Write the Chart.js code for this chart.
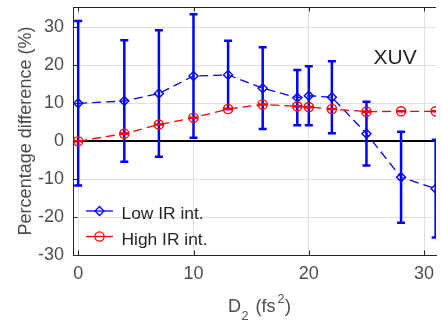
<!DOCTYPE html>
<html>
<head>
<meta charset="utf-8">
<script src="https://cdn.jsdelivr.net/npm/chart.js@4.4.1/dist/chart.umd.min.js"></script>
<style>
  html, body { margin: 0; padding: 0; background: #fff; }
  canvas { display: block; }
</style>
</head>
<body>
<canvas id="grafico" width="442" height="323"></canvas>
<script>
// D2 (fs^2)
const dispersion = [0, 4, 7, 10, 13, 16, 19, 20, 22, 25, 28, 31];
// baja intensidad IR
const lowIR    = [10.0, 10.6, 12.6, 17.2, 17.5, 14.0, 11.5, 12.0, 11.6, 2.0, -9.5, -12.5];
const lowIRErr = [21.7, 16.0, 16.7, 16.3,  9.0, 10.8,  7.3,  7.8,  9.5, 8.4, 12.0, 12.9];
// alta intensidad IR
const highIR    = [0.0, 2.0, 4.4, 6.2, 8.5, 9.7, 9.2, 9.0, 8.5, 7.8, 7.9, 7.9];
const highIRErr = [0.15, 0.15, 0.15, 0.15, 0.15, 0.15, 0.15, 0.15, 0.15, 0.15, 0.15, 0.15];

const xTicks = [0, 10, 20, 30];
const yTicks = [-30, -20, -10, 0, 10, 20, 30];

const FUENTE = '"Liberation Sans", Arial, Helvetica, sans-serif';
const GRIS = '#4d4d4d';
const EJE = '#262626';

// barras de error, se dibujan antes de cada serie
const barrasError = {
    id: 'barrasError',
    beforeDatasetDraw(chart, args) {
        const ds = chart.data.datasets[args.index];
        if (!ds.errores) return;
        const { ctx, chartArea, scales: { x, y } } = chart;
        ctx.save();
        ctx.beginPath();
        ctx.rect(chartArea.left, chartArea.top, chartArea.width, chartArea.height);
        ctx.clip();
        ctx.strokeStyle = ds.borderColor;
        ctx.lineWidth = ds.anchoError;
        ctx.setLineDash([]);
        ds.data.forEach((p, i) => {
            const px = x.getPixelForValue(p.x);
            const arriba = y.getPixelForValue(p.y + ds.errores[i]);
            const abajo = y.getPixelForValue(p.y - ds.errores[i]);
            ctx.beginPath();
            ctx.moveTo(px, arriba); ctx.lineTo(px, abajo);
            ctx.moveTo(px - 4, arriba); ctx.lineTo(px + 4, arriba);
            ctx.moveTo(px - 4, abajo); ctx.lineTo(px + 4, abajo);
            ctx.stroke();
        });
        ctx.restore();
    }
};

function marcador(ctx, estilo, x, y, r) {
    ctx.beginPath();
    if (estilo === 'rectRot') {
        ctx.moveTo(x, y - r); ctx.lineTo(x + r, y); ctx.lineTo(x, y + r); ctx.lineTo(x - r, y); ctx.closePath();
    } else {
        ctx.arc(x, y, r, 0, Math.PI * 2);
    }
    ctx.stroke();
}

// marco, marcas interiores, leyenda, textos
const decoracion = {
    id: 'decoracion',
    afterDraw(chart) {
        const { ctx, chartArea: a, scales: { x, y } } = chart;
        ctx.save();
        ctx.strokeStyle = EJE;
        ctx.lineWidth = 1;
        ctx.beginPath();
        ctx.moveTo(a.left, a.top + 0.5); ctx.lineTo(a.right, a.top + 0.5);
        xTicks.forEach(v => {
            const px = Math.round(x.getPixelForValue(v)) + 0.5;
            ctx.moveTo(px, a.bottom); ctx.lineTo(px, a.bottom - 4.5);
            ctx.moveTo(px, a.top); ctx.lineTo(px, a.top + 4.5);
        });
        yTicks.forEach(v => {
            const py = Math.round(y.getPixelForValue(v)) + 0.5;
            ctx.moveTo(a.left, py); ctx.lineTo(a.left + 4.5, py);
        });
        ctx.stroke();

        // leyenda
        const filas = [211, 236.5];
        chart.data.datasets.forEach((ds, i) => {
            const fy = filas[i];
            ctx.strokeStyle = ds.borderColor;
            ctx.lineWidth = 1.3;
            ctx.setLineDash([]);
            ctx.beginPath();
            ctx.moveTo(86, fy); ctx.lineTo(113, fy);
            ctx.stroke();
            marcador(ctx, ds.pointStyle, 99.5, fy, ds.pointRadius);
            ctx.fillStyle = EJE;
            ctx.font = '17.4px ' + FUENTE;
            ctx.textBaseline = 'alphabetic';
            ctx.textAlign = 'left';
            ctx.fillText(ds.label, 121.5, fy + 8);
        });

        // XUV
        ctx.fillStyle = EJE;
        ctx.font = '21px ' + FUENTE;
        ctx.fillText('XUV', 373.5, 64);

        // titulo eje x: D_2 (fs^2)
        ctx.fillStyle = GRIS;
        ctx.font = '18px ' + FUENTE;
        ctx.fillText('D', 228, 312);
        ctx.font = '12.5px ' + FUENTE;
        ctx.fillText('2', 241.5, 320);
        ctx.font = '18px ' + FUENTE;
        ctx.fillText('(fs', 255.5, 312);
        let cx = 255.5 + ctx.measureText('(fs').width + 2;
        ctx.font = '12.5px ' + FUENTE;
        ctx.fillText('2', cx, 303);
        cx += ctx.measureText('2').width + 0.5;
        ctx.font = '18px ' + FUENTE;
        ctx.fillText(')', cx, 312);
        ctx.restore();
    }
};

const datos = {
    datasets: [{
        label: 'Low IR int.',
        data: dispersion.map((d, i) => ({ x: d, y: lowIR[i] })),
        errores: lowIRErr,
        anchoError: 2.5,
        borderColor: '#0000ff',
        backgroundColor: 'rgba(0,0,0,0)',
        borderWidth: 1.3,
        borderDash: [9, 5],
        pointStyle: 'rectRot',
        pointRadius: 4.5,
        pointBorderWidth: 1.4,
        showLine: true,
        order: 1
    }, {
        label: 'High IR int.',
        data: dispersion.map((d, i) => ({ x: d, y: highIR[i] })),
        errores: highIRErr,
        anchoError: 1.5,
        borderColor: '#ff0000',
        backgroundColor: 'rgba(0,0,0,0)',
        borderWidth: 1.3,
        borderDash: [9, 5],
        pointStyle: 'circle',
        pointRadius: 4.6,
        pointBorderWidth: 1.4,
        showLine: true,
        order: 0
    }]
};

const grafico = new Chart(document.getElementById('grafico').getContext('2d'), {
    type: 'scatter',
    data: datos,
    plugins: [barrasError, decoracion],
    options: {
        responsive: false,
        animation: false,
        layout: { padding: { top: 7, right: 0, bottom: 0, left: 0 } },
        plugins: { legend: { display: false }, tooltip: { enabled: false } },
        scales: {
            x: {
                type: 'linear',
                min: -0.45,
                max: 31.03,
                afterBuildTicks: s => { s.ticks = xTicks.map(v => ({ value: v })); },
                afterFit: s => { s.height = 68; s.paddingLeft = 0; s.paddingRight = 0; },
                grid: { color: '#dfdfdf', drawTicks: false },
                border: { color: EJE, width: 1 },
                ticks: { color: GRIS, font: { family: FUENTE, size: 18 }, padding: 8, autoSkip: false, maxRotation: 0 }
            },
            y: {
                min: -30,
                max: 35.4,
                afterBuildTicks: s => { s.ticks = yTicks.map(v => ({ value: v })); },
                afterFit: s => { s.width = 73; s.paddingTop = 0; s.paddingBottom = 0; },
                grid: {
                    color: c => (c.tick && c.tick.value === 0 ? '#000000' : '#dfdfdf'),
                    lineWidth: c => (c.tick && c.tick.value === 0 ? 2 : 1),
                    drawTicks: false
                },
                border: { color: EJE, width: 1 },
                ticks: { color: GRIS, font: { family: FUENTE, size: 18 }, padding: 9 },
                title: {
                    display: true,
                    text: 'Percentage difference (%)',
                    color: GRIS,
                    font: { family: FUENTE, size: 18 },
                    padding: { top: 15, bottom: 0 }
                }
            }
        }
    }
});
</script>
</body>
</html>
